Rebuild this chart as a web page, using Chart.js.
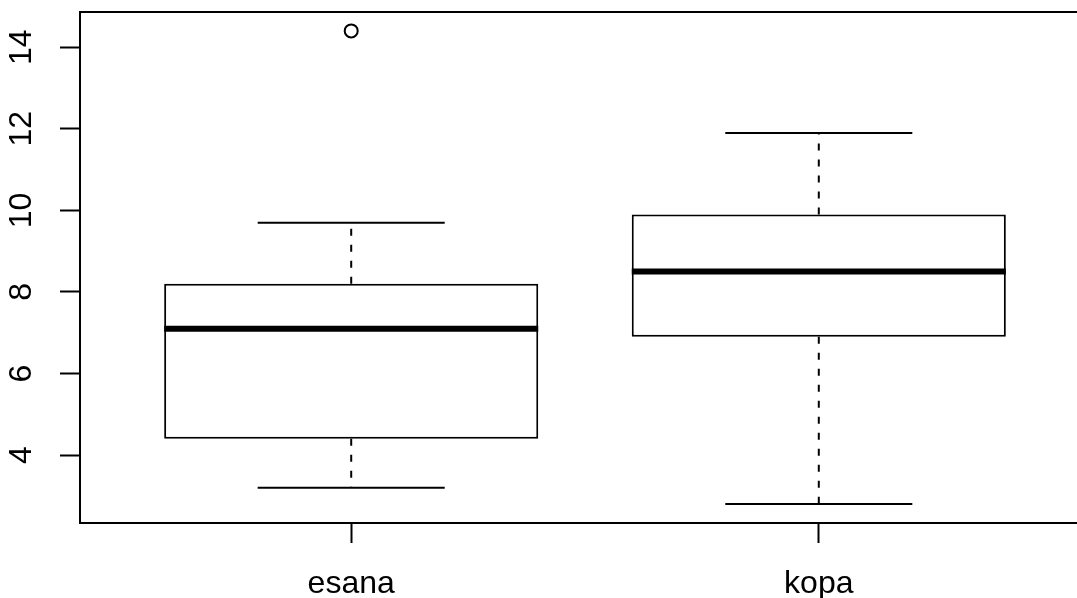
<!DOCTYPE html>
<html>
<head>
<meta charset="utf-8">
<script src="https://cdn.jsdelivr.net/npm/chart.js@4/dist/chart.umd.min.js"></script>
<style>
  html, body { margin: 0; padding: 0; background: #fff; overflow: hidden; width: 1077px; height: 598px; }
  #wrap { width: 1100px; height: 598px; position: relative; }
</style>
</head>
<body>
<div id="wrap"><canvas id="c" width="1100" height="598"></canvas></div>
<script>
// ---- data ----
const categories   = ['esana', 'kopa'];
const whiskerLow   = [3.2, 2.8];
const quartile1    = [4.4, 6.9];
const medians      = [7.1, 8.5];
const quartile3    = [8.2, 9.9];
const whiskerHigh  = [9.7, 11.9];
const outliers     = [[14.4], []];
const yTickValues  = [4, 6, 8, 10, 12, 14];

// ---- style constants ----
const BOX_W = 0.8;      // box width in category units (R default)
const CAP_W = 0.4;      // staple width
const FONT = '"Liberation Sans", Arial, Helvetica, sans-serif';
const FS = 32;

const xPos = categories.map((_, i) => i + 1);

const datasets = [];

// boxes as floating bars
datasets.push({
  type: 'bar',
  data: xPos.map((x, i) => ({ x: x, y: [quartile1[i], quartile3[i]] })),
  backgroundColor: '#ffffff',
  borderColor: '#000000',
  borderWidth: 2,
  borderSkipped: false,
  barPercentage: BOX_W,
  categoryPercentage: 1,
  order: 5
});

function seg(points, opts) {
  datasets.push(Object.assign({
    type: 'scatter',
    data: points,
    showLine: true,
    borderColor: '#000000',
    borderWidth: 2,
    pointRadius: 0,
    pointHoverRadius: 0,
    fill: false,
    order: 3
  }, opts || {}));
}

xPos.forEach((x, i) => {
  // dashed whiskers
  seg([{ x: x, y: quartile3[i] }, { x: x, y: whiskerHigh[i] }], { borderDash: [7, 9] });
  seg([{ x: x, y: quartile1[i] }, { x: x, y: whiskerLow[i] }], { borderDash: [7, 9] });
  // staples
  seg([{ x: x - CAP_W / 2, y: whiskerHigh[i] }, { x: x + CAP_W / 2, y: whiskerHigh[i] }]);
  seg([{ x: x - CAP_W / 2, y: whiskerLow[i] }, { x: x + CAP_W / 2, y: whiskerLow[i] }]);
  // median
  seg([{ x: x - BOX_W / 2, y: medians[i] }, { x: x + BOX_W / 2, y: medians[i] }],
      { borderWidth: 6, borderCapStyle: 'butt', order: 1 });
});

// outliers
datasets.push({
  type: 'scatter',
  data: xPos.flatMap((x, i) => outliers[i].map(v => ({ x: x, y: v }))),
  pointStyle: 'circle',
  pointRadius: 6.5,
  pointHoverRadius: 6.5,
  borderWidth: 2,
  borderColor: '#000000',
  backgroundColor: 'rgba(0,0,0,0)',
  order: 0
});

// y range: R style 4% extension of data range
const allVals = whiskerLow.concat(whiskerHigh, outliers.flat());
const dMin = Math.min(...allVals), dMax = Math.max(...allVals);
const ext = (dMax - dMin) * 0.04;
const xExt = categories.length * 0.04;

const framePlugin = {
  id: 'frame',
  afterDraw(chart) {
    const { ctx, chartArea: a } = chart;
    ctx.save();
    ctx.strokeStyle = '#000';
    ctx.lineWidth = 2;
    ctx.beginPath();
    ctx.moveTo(a.left, a.top);
    ctx.lineTo(a.right, a.top);
    ctx.lineTo(a.right, a.bottom);
    ctx.stroke();
    ctx.restore();
  }
};

new Chart(document.getElementById('c'), {
  type: 'bar',
  data: { datasets: datasets },
  plugins: [framePlugin],
  options: {
    responsive: false,
    animation: false,
    events: [],
    layout: { padding: { top: 12, right: 10, left: 0, bottom: 0 } },
    plugins: { legend: { display: false }, tooltip: { enabled: false } },
    scales: {
      x: {
        type: 'linear',
        min: 0.5 - xExt,
        max: categories.length + 0.5 + xExt,
        offset: false,
        afterBuildTicks: s => { s.ticks = xPos.map(v => ({ value: v })); },
        afterFit: s => { s.height = 75; s.paddingLeft = 0; s.paddingRight = 0; },
        grid: { drawOnChartArea: false, drawTicks: true, tickLength: 20, tickWidth: 2, tickColor: '#000', offset: false },
        border: { display: true, color: '#000', width: 2 },
        ticks: {
          color: '#000',
          font: { family: FONT, size: FS },
          padding: 22,
          maxRotation: 0, minRotation: 0,
          callback: v => categories[Math.round(v) - 1] || ''
        }
      },
      y: {
        type: 'linear',
        min: dMin - ext,
        max: dMax + ext,
        afterBuildTicks: s => { s.ticks = yTickValues.map(v => ({ value: v })); },
        afterFit: s => { s.width = 80; s.paddingTop = 0; s.paddingBottom = 0; },
        grid: { drawOnChartArea: false, drawTicks: true, tickLength: 20, tickWidth: 2, tickColor: '#000' },
        border: { display: true, color: '#000', width: 2 },
        ticks: {
          color: '#000',
          font: { family: FONT, size: FS },
          padding: 20,
          minRotation: 90, maxRotation: 90,
          crossAlign: 'center',
          callback: v => String(v)
        }
      }
    }
  }
});
</script>
</body>
</html>
